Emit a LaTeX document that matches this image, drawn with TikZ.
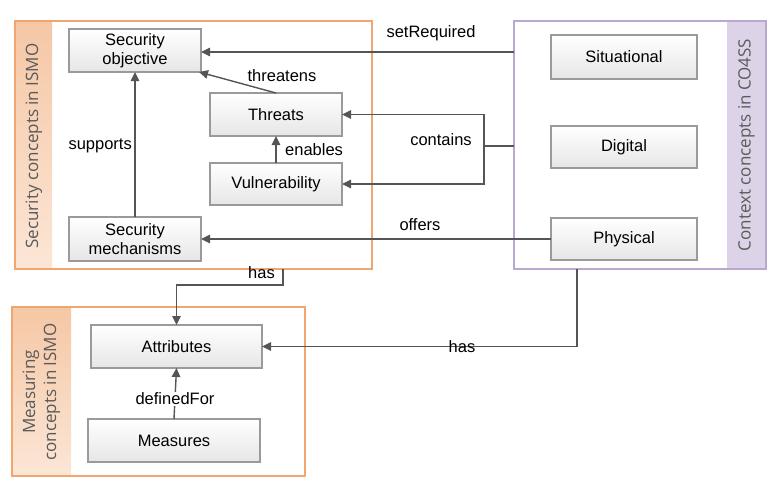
\documentclass[tikz,border=0pt]{standalone}
\usepackage{fontspec}
\setmainfont{Liberation Sans}
\newfontfamily\bandfont{Open Sans}
\usetikzlibrary{arrows.meta,shadows}
\definecolor{linec}{HTML}{555555}
\definecolor{boxborder}{HTML}{9A9A9A}
\definecolor{boxbot}{HTML}{E6E6E6}
\definecolor{orgborder}{HTML}{F2A66F}
\definecolor{orgtop}{HTML}{F5C7A5}
\definecolor{orgbot}{HTML}{FBE6D6}
\definecolor{purborder}{HTML}{B9A9D2}
\definecolor{purfill}{HTML}{DCD3E8}
\definecolor{bandtext}{HTML}{5A5A5A}
\begin{document}
\begin{tikzpicture}[x=1pt,y=-1pt,
  concept/.style={draw=boxborder, line width=1.1pt, top color=white, bottom color=boxbot,
    drop shadow={shadow xshift=1.2pt, shadow yshift=-1.2pt, opacity=0.25},
    inner sep=0pt, outer sep=0pt, align=center,
    font=\fontsize{16.5}{19.5}\selectfont},
  grp/.style={inner sep=0pt, outer sep=0pt},
  bandlbl/.style={rotate=90, text=bandtext, align=center, font=\bandfont\fontsize{17}{21}\selectfont},
  lbl/.style={inner sep=1pt, font=\fontsize{16.5}{19.5}\selectfont},
  conn/.style={draw=linec, line width=1.4pt},
  arr/.style={conn, -{Triangle[length=9pt,width=8.5pt]}}
]
\useasboundingbox (0,0) rectangle (778,485);

% group boxes
\node[grp, minimum width=357pt, minimum height=248pt] (secbox) at (193.5,145) {};
\node[grp, minimum width=252pt, minimum height=248pt] (ctxbox) at (640,145) {};
\node[grp, minimum width=293pt, minimum height=169pt] (measbox) at (158.5,391.5) {};

\path[top color=orgtop, bottom color=orgbot] (secbox.north west) rectangle ([xshift=37pt]secbox.south west);
\path[top color=orgtop, bottom color=orgbot] (measbox.north west) rectangle ([xshift=59pt]measbox.south west);
\fill[purfill] ([xshift=-39pt]ctxbox.north east) rectangle (ctxbox.south east);

\draw[orgborder, line width=1.2pt] (secbox.north west) rectangle (secbox.south east);
\draw[orgborder, line width=1.2pt] (measbox.north west) rectangle (measbox.south east);
\draw[purborder, line width=1.2pt] (ctxbox.north west) rectangle (ctxbox.south east);

\node[bandlbl] (seclbl) at (34,146) {Security concepts in ISMO};
\node[bandlbl] (ctxlbl) at (746.5,145) {Context concepts in CO4SS};
\node[bandlbl] (measlbl) at (41.5,392) {Measuring\\concepts in ISMO};

% concept nodes
\node[concept, minimum width=132pt, minimum height=43pt] (secobj) at (135,50.5) {Security\\objective};
\node[concept, minimum width=132pt, minimum height=43pt] (threats) at (276,114.5) {Threats};
\node[concept, minimum width=132pt, minimum height=42pt] (vuln) at (276,184) {Vulnerability};
\node[concept, minimum width=132pt, minimum height=44pt] (secmech) at (135,239) {Security\\mechanisms};
\node[concept, minimum width=146pt, minimum height=44pt] (situational) at (624,57) {Situational};
\node[concept, minimum width=146pt, minimum height=42pt] (digital) at (624,147) {Digital};
\node[concept, minimum width=146pt, minimum height=42pt] (physical) at (624,239) {Physical};
\node[concept, minimum width=171pt, minimum height=43pt] (attributes) at (176.5,346.5) {Attributes};
\node[concept, minimum width=172pt, minimum height=43pt] (measures) at (174,440.5) {Measures};

% connectors
\draw[arr] (ctxbox.west |- 0,52) -- (secobj.east |- 0,52);
\node[lbl] (lsetreq) at (431,33) {setRequired};

\draw[arr] (threats.north) -- ([xshift=-2pt]secobj.south east);
\node[lbl] (lthreat) at (282,76) {threatens};

\draw[arr] (vuln.north) -- (threats.south);
\node[lbl, anchor=west] (lenable) at (284,150) {enables};

\draw[arr] (secmech.north) -- (secobj.south);
\node[lbl, anchor=east] (lsupp) at (133,146) {supports};

\coordinate (cj) at (484,146);
\draw[conn] (ctxbox.west |- cj) -- (cj);
\draw[arr] (cj) |- (threats.east);
\draw[arr] (cj) |- (vuln.east);
\node[lbl] (lcont) at (441,140) {contains};

\draw[arr] (physical.west) -- (secmech.east |- physical.west);
\node[lbl] (loffer) at (420,225) {offers};

\coordinate (hx) at (283,0);
\draw[arr] (secbox.south -| hx) -- ++(0,16) -| (attributes.north);
\node[lbl] (lhas1) at (261.5,273) {has};

\coordinate (hy) at (577,0);
\draw[arr] (ctxbox.south -| hy) |- (attributes.east);
\node[lbl] (lhas2) at (462,347) {has};

\draw[arr] (measures.north) -- (attributes.south);
\node[lbl, fill=white] (ldef) at (175,399) {definedFor};

\end{tikzpicture}
\end{document}
